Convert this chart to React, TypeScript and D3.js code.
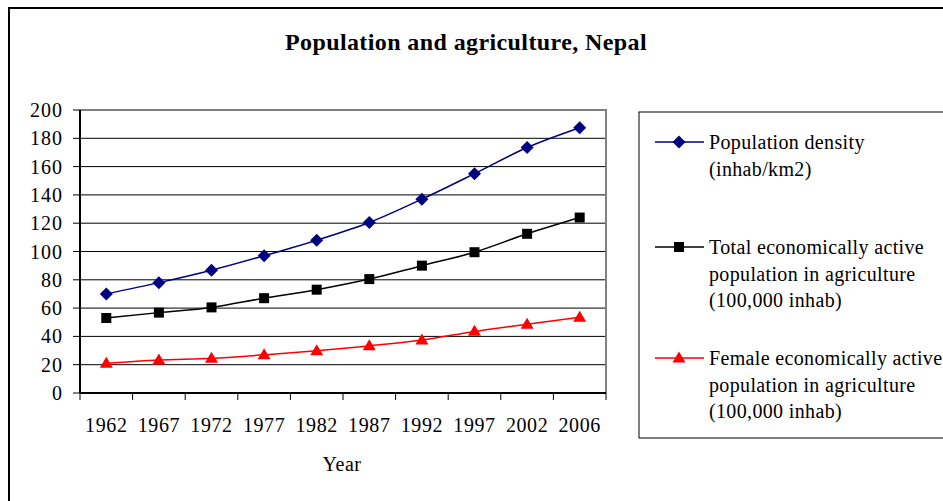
import React from "react";
import * as d3 from "d3";

// Census years on the category axis
const years = ["1962", "1967", "1972", "1977", "1982", "1987", "1992", "1997", "2002", "2006"];

// Population density (inhab/km2)
const density = [70, 78, 86.8, 97, 108, 120.5, 137, 155, 173.5, 187.5];
// Total economically active population in agriculture (100,000 inhab)
const totalActive = [53, 56.8, 60.5, 67, 73, 80.5, 90, 99.5, 112.5, 124];
// Female economically active population in agriculture (100,000 inhab)
const femaleActive = [21, 23.3, 24.5, 27, 29.8, 33.3, 37.4, 43.5, 48.6, 53.5];

const yTicks = [0, 20, 40, 60, 80, 100, 120, 140, 160, 180, 200];

type Series = {
  name: string[];
  values: number[];
  color: string;
  marker: "diamond" | "square" | "triangle";
};

const series: Series[] = [
  { name: ["Population density", "(inhab/km2)"], values: density, color: "#000080", marker: "diamond" },
  {
    name: ["Total economically active", "population in agriculture", "(100,000 inhab)"],
    values: totalActive,
    color: "#000000",
    marker: "square",
  },
  {
    name: ["Female economically active", "population in agriculture", "(100,000 inhab)"],
    values: femaleActive,
    color: "#FF0000",
    marker: "triangle",
  },
];

const W = 943;
const H = 501;
const plot = { left: 80, top: 110, right: 606, bottom: 393 };
const FONT = "'Liberation Serif', 'Times New Roman', serif";

function Marker({ kind, x, y, color }: { kind: Series["marker"]; x: number; y: number; color: string }) {
  if (kind === "diamond") {
    const r = 6.5;
    return <path d={`M${x},${y - r}L${x + r},${y}L${x},${y + r}L${x - r},${y}Z`} fill={color} />;
  }
  if (kind === "square") {
    const s = 10;
    return <rect x={x - s / 2} y={y - s / 2} width={s} height={s} fill={color} />;
  }
  const h = 11;
  const w = 13;
  return <path d={`M${x},${y - h * 0.6}L${x + w / 2},${y + h * 0.4}L${x - w / 2},${y + h * 0.4}Z`} fill={color} />;
}

export default function App() {
  const x = d3.scaleBand<string>().domain(years).range([plot.left, plot.right]);
  const y = d3.scaleLinear().domain([0, 200]).range([plot.bottom, plot.top]);
  const cx = (d: string) => (x(d) as number) + x.bandwidth() / 2;

  const line = d3
    .line<number>()
    .x((_, i) => cx(years[i]))
    .y((v) => y(v))
    .curve(d3.curveMonotoneX);

  const tickXs = years.map((d) => x(d) as number).concat([plot.right]);

  const legend = { left: 639, top: 112, bottom: 438 };
  const legendRows = [142, 247, 358];
  const lineH = 26.5;

  return (
    <svg
      width={W}
      height={H}
      style={{ position: "absolute", left: 0, top: 0, background: "#fff" }}
      fontFamily={FONT}
    >
      {/* chart frame */}
      <rect x={9} y={8} width={W + 20} height={H + 20} fill="none" stroke="#000" strokeWidth={2} />

      <text x={466} y={50} textAnchor="middle" fontSize={24} fontWeight="bold" letterSpacing={0.4} fill="#000">
        Population and agriculture, Nepal
      </text>

      {/* gridlines */}
      {yTicks.slice(1).map((t) => (
        <line key={t} x1={plot.left} x2={plot.right} y1={y(t)} y2={y(t)} stroke="#000" strokeWidth={1} />
      ))}
      {/* plot area border */}
      <path
        d={`M${plot.left},${plot.top}H${plot.right}V${plot.bottom}`}
        fill="none"
        stroke="#808080"
        strokeWidth={2}
      />

      {/* y axis */}
      <line x1={plot.left} x2={plot.left} y1={plot.top} y2={plot.bottom} stroke="#000" strokeWidth={2} />
      {yTicks.map((t) => (
        <g key={t}>
          <line x1={plot.left - 7} x2={plot.left} y1={y(t)} y2={y(t)} stroke="#000" strokeWidth={1} />
          <text x={63} y={y(t)} dy="0.35em" textAnchor="end" fontSize={20} letterSpacing={1} fill="#000">
            {t}
          </text>
        </g>
      ))}

      {/* x axis */}
      <line x1={plot.left} x2={plot.right} y1={plot.bottom} y2={plot.bottom} stroke="#000" strokeWidth={2} />
      {tickXs.map((tx, i) => (
        <line key={i} x1={tx} x2={tx} y1={plot.bottom} y2={plot.bottom + 7} stroke="#000" strokeWidth={1} />
      ))}
      {years.map((d) => (
        <text key={d} x={cx(d)} y={432} textAnchor="middle" fontSize={20} letterSpacing={0.6} fill="#000">
          {d}
        </text>
      ))}
      <text x={342} y={471} textAnchor="middle" fontSize={20} letterSpacing={0.5} fill="#000">
        Year
      </text>

      {/* series */}
      {series.map((s) => (
        <g key={s.name[0]}>
          <path d={line(s.values) ?? ""} fill="none" stroke={s.color} strokeWidth={1.5} />
          {s.values.map((v, i) => (
            <Marker key={i} kind={s.marker} x={cx(years[i])} y={y(v)} color={s.color} />
          ))}
        </g>
      ))}

      {/* legend */}
      <rect
        x={legend.left}
        y={legend.top}
        width={W - legend.left + 20}
        height={legend.bottom - legend.top}
        fill="#fff"
        stroke="#000"
        strokeWidth={1}
      />
      {series.map((s, k) => {
        const ly = legendRows[k];
        return (
          <g key={s.name[0]}>
            <line x1={655} x2={704} y1={ly} y2={ly} stroke={s.color} strokeWidth={1.5} />
            <Marker kind={s.marker} x={679} y={ly} color={s.color} />
            {s.name.map((ln, j) => (
              <text key={j} x={709} y={ly + j * lineH} dy="0.35em" fontSize={20} letterSpacing={0.35} fill="#000">
                {ln}
              </text>
            ))}
          </g>
        );
      })}
    </svg>
  );
}
